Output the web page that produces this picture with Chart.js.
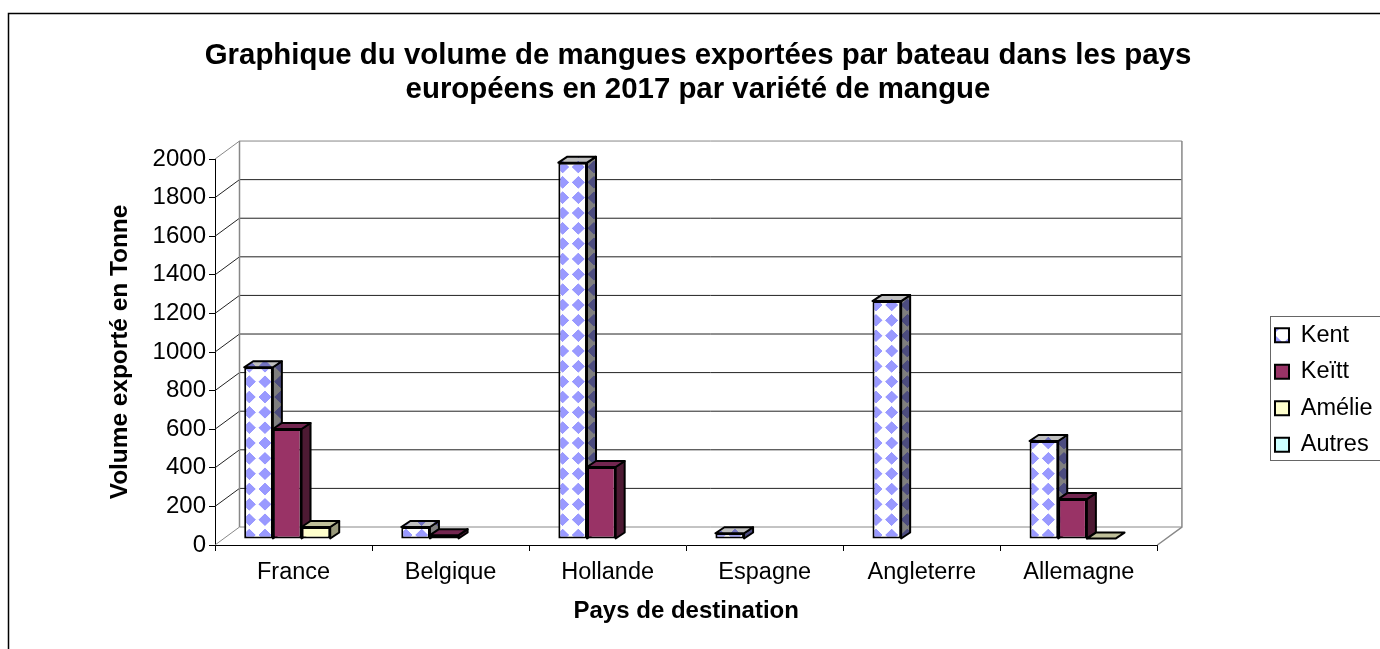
<!DOCTYPE html>
<html lang="fr">
<head>
<meta charset="UTF-8">
<title>Volume de mangues exportées</title>
<script src="https://cdn.jsdelivr.net/npm/chart.js"></script>
<style>
    html, body { margin: 0; padding: 0; background: #fff; overflow: hidden; }
    canvas { display: block; }
</style>
</head>
<body>
<canvas id="mangues" width="1380" height="649"></canvas>
<script>
// Values
const pays = ['France', 'Belgique', 'Hollande', 'Espagne', 'Angleterre', 'Allemagne'];
const kent = [890, 62, 1950, 30, 1233, 508];
const keitt = [570, 20, 373, null, null, 207];
const amelie = [62, null, null, null, null, 2];
const autres = [null, null, null, null, null, null];
const titre = ['Graphique du volume de mangues exportées par bateau dans les pays',
               'européens en 2017 par variété de mangue'];

const FONT = "'Liberation Sans', Arial, sans-serif";
Chart.defaults.font.family = FONT;
Chart.defaults.color = '#000';

// floor / wall depth, and where the bars sit inside that depth
const WALL_DX = 24.5, WALL_DY = -18;
const BAR_SHIFT_X = 8, BAR_SHIFT_Y = -6;
const BAR_DX = 9, BAR_DY = -6;

// white tile with a blue diamond, 3x so the period can be fractional
function diamondPattern() {
    const tile = document.createElement('canvas');
    tile.width = 47; tile.height = 46;
    const c = tile.getContext('2d');
    c.fillStyle = '#fff';
    c.fillRect(0, 0, 47, 46);
    c.fillStyle = '#9999ff';
    c.beginPath();
    c.moveTo(23.5, 4); c.lineTo(43, 23); c.lineTo(23.5, 42); c.lineTo(4, 23);
    c.closePath();
    c.fill();
    const p = document.createElement('canvas').getContext('2d').createPattern(tile, 'repeat');
    p.setTransform(new DOMMatrix().translate(241.3 - 23.5 / 3, 541 - 23 / 3).scale(1 / 3));
    return p;
}
const kentFill = diamondPattern();

// darker faces for the 3D bars: [side, top]
const faces = [
    [kentFill, kentFill],
    ['#4d1a33', '#732650'],
    ['#99997a', '#bfbf99'],
    ['#7a9999', '#99bfbf']
];
const kentShade = ['rgba(0,0,0,0.5)', 'rgba(0,0,0,0.25)'];

function poly(ctx, pts, fill, stroke) {
    ctx.beginPath();
    pts.forEach((p, i) => i ? ctx.lineTo(p[0], p[1]) : ctx.moveTo(p[0], p[1]));
    ctx.closePath();
    ctx.fillStyle = fill;
    ctx.fill();
    if (stroke) {
        ctx.strokeStyle = '#000';
        ctx.lineWidth = 2;
        ctx.lineJoin = 'round';
        ctx.stroke();
    }
}

const decor = {
    id: 'decor',
    beforeDraw(chart) {
        const ctx = chart.ctx;
        ctx.save();
        ctx.strokeStyle = '#000';
        ctx.lineWidth = 1.5;
        ctx.beginPath();
        ctx.moveTo(8.5, 649); ctx.lineTo(8.5, 13.5); ctx.lineTo(1380, 13.5);
        ctx.stroke();
        ctx.restore();
    },
    afterLayout(chart) {
        // legend box sits lower than the centre of its slot in the original
        const lg = chart.legend;
        lg.top += 70; lg.bottom += 70;
        lg.left = 1262;
    },
    afterDraw(chart) {
        const ctx = chart.ctx;
        ctx.save();
        ctx.strokeStyle = '#666';
        ctx.lineWidth = 1;
        ctx.strokeRect(1270.5, 316.5, 120, 144);
        ctx.restore();
    },
    beforeDatasetsDraw(chart) {
        const ctx = chart.ctx, y = chart.scales.y, a = chart.chartArea;
        const bl = a.left + WALL_DX, br = a.right + WALL_DX;
        ctx.save();
        ctx.lineWidth = 1;
        y.ticks.forEach(t => {
            const py = y.getPixelForValue(t.value);
            ctx.strokeStyle = t.value === 2000 || t.value === 0 ? '#888' : '#222';
            ctx.beginPath();
            ctx.moveTo(a.left, py);
            ctx.lineTo(bl, py + WALL_DY);
            ctx.lineTo(br, py + WALL_DY);
            ctx.stroke();
        });
        ctx.strokeStyle = '#888';
        ctx.lineWidth = 1.5;
        ctx.beginPath();
        ctx.moveTo(bl, a.top + WALL_DY); ctx.lineTo(bl, a.bottom + WALL_DY);
        ctx.moveTo(br, a.top + WALL_DY); ctx.lineTo(br, a.bottom + WALL_DY);
        ctx.lineTo(a.right, a.bottom);
        ctx.stroke();
        ctx.restore();
    },
    // the library paints the right-hand bar first, here each bar has to cover
    // the side face of the one on its left, so the painting is done below
    beforeDatasetDraw() {
        return false;
    },
    afterDatasetsDraw(chart) {
        const ctx = chart.ctx;
        ctx.save();
        ctx.translate(BAR_SHIFT_X, BAR_SHIFT_Y);
        chart.data.datasets.forEach((ds, i) => {
            const meta = chart.getDatasetMeta(i), f = faces[i];
            meta.data.forEach((el, j) => {
                if (ds.data[j] === null) return;
                const { x, y, base, width } = el.getProps(['x', 'y', 'base', 'width'], true);
                const l = x - width / 2, r = x + width / 2;
                const side = [[r, y], [r + BAR_DX, y + BAR_DY], [r + BAR_DX, base + BAR_DY], [r, base]];
                const top = [[l, y], [l + BAR_DX, y + BAR_DY], [r + BAR_DX, y + BAR_DY], [r, y]];
                el.draw(ctx);
                if (base - y > 1) {
                    poly(ctx, side, f[0], i !== 0);
                    if (i === 0) poly(ctx, side, kentShade[0], true);
                }
                poly(ctx, top, f[1], i !== 0);
                if (i === 0) poly(ctx, top, kentShade[1], true);
            });
        });
        ctx.restore();
    }
};

const barStyle = { borderColor: '#000', borderWidth: 2, borderSkipped: false };

new Chart(document.getElementById('mangues'), {
    type: 'bar',
    plugins: [decor],
    data: {
        labels: pays,
        datasets: [
            { label: 'Kent', data: kent, backgroundColor: kentFill, ...barStyle },
            { label: 'Keïtt', data: keitt, backgroundColor: '#993366', ...barStyle },
            { label: 'Amélie', data: amelie, backgroundColor: '#ffffcc', ...barStyle },
            { label: 'Autres', data: autres, backgroundColor: '#ccffff', ...barStyle }
        ]
    },
    options: {
        responsive: false,
        animation: false,
        layout: { padding: { left: 16, right: 0, top: 14, bottom: 23 } },
        categoryPercentage: 0.73,
        barPercentage: 1,
        plugins: {
            tooltip: { enabled: false },
            title: {
                display: true,
                text: titre,
                color: '#000',
                font: { size: 29.4, weight: 'bold', lineHeight: 1.157 },
                padding: { top: 25, bottom: 52 }
            },
            legend: {
                position: 'right',
                labels: {
                    boxWidth: 14,
                    boxHeight: 14,
                    padding: 13,
                    color: '#000',
                    font: { size: 23.5 }
                }
            }
        },
        scales: {
            x: {
                grid: { drawOnChartArea: false, color: '#000', tickLength: 6 },
                border: { color: '#000', width: 1 },
                ticks: { font: { size: 23.5 }, color: '#000', maxRotation: 0, padding: 7 },
                title: {
                    display: true,
                    text: 'Pays de destination',
                    color: '#000',
                    font: { size: 24, weight: 'bold' },
                    padding: 0
                },
                afterFit(s) { s.height = 81; }
            },
            y: {
                min: 0,
                max: 2000,
                grid: { drawOnChartArea: false, color: '#000', tickLength: 6 },
                border: { color: '#000', width: 1 },
                ticks: { stepSize: 200, font: { size: 24 }, color: '#000', padding: 3, format: { useGrouping: false } },
                title: {
                    display: true,
                    text: 'Volume exporté en Tonne',
                    color: '#000',
                    font: { size: 24.4, weight: 'bold' },
                    padding: { top: 90, bottom: 0 }
                },
                afterFit(s) { s.width = 199; }
            },
            // empty axis: keeps the gap between plot and legend
            gap: {
                type: 'linear',
                position: 'right',
                grid: { display: false },
                border: { display: false },
                ticks: { display: false },
                afterFit(s) { s.width = 102; }
            }
        }
    }
});
</script>
</body>
</html>
